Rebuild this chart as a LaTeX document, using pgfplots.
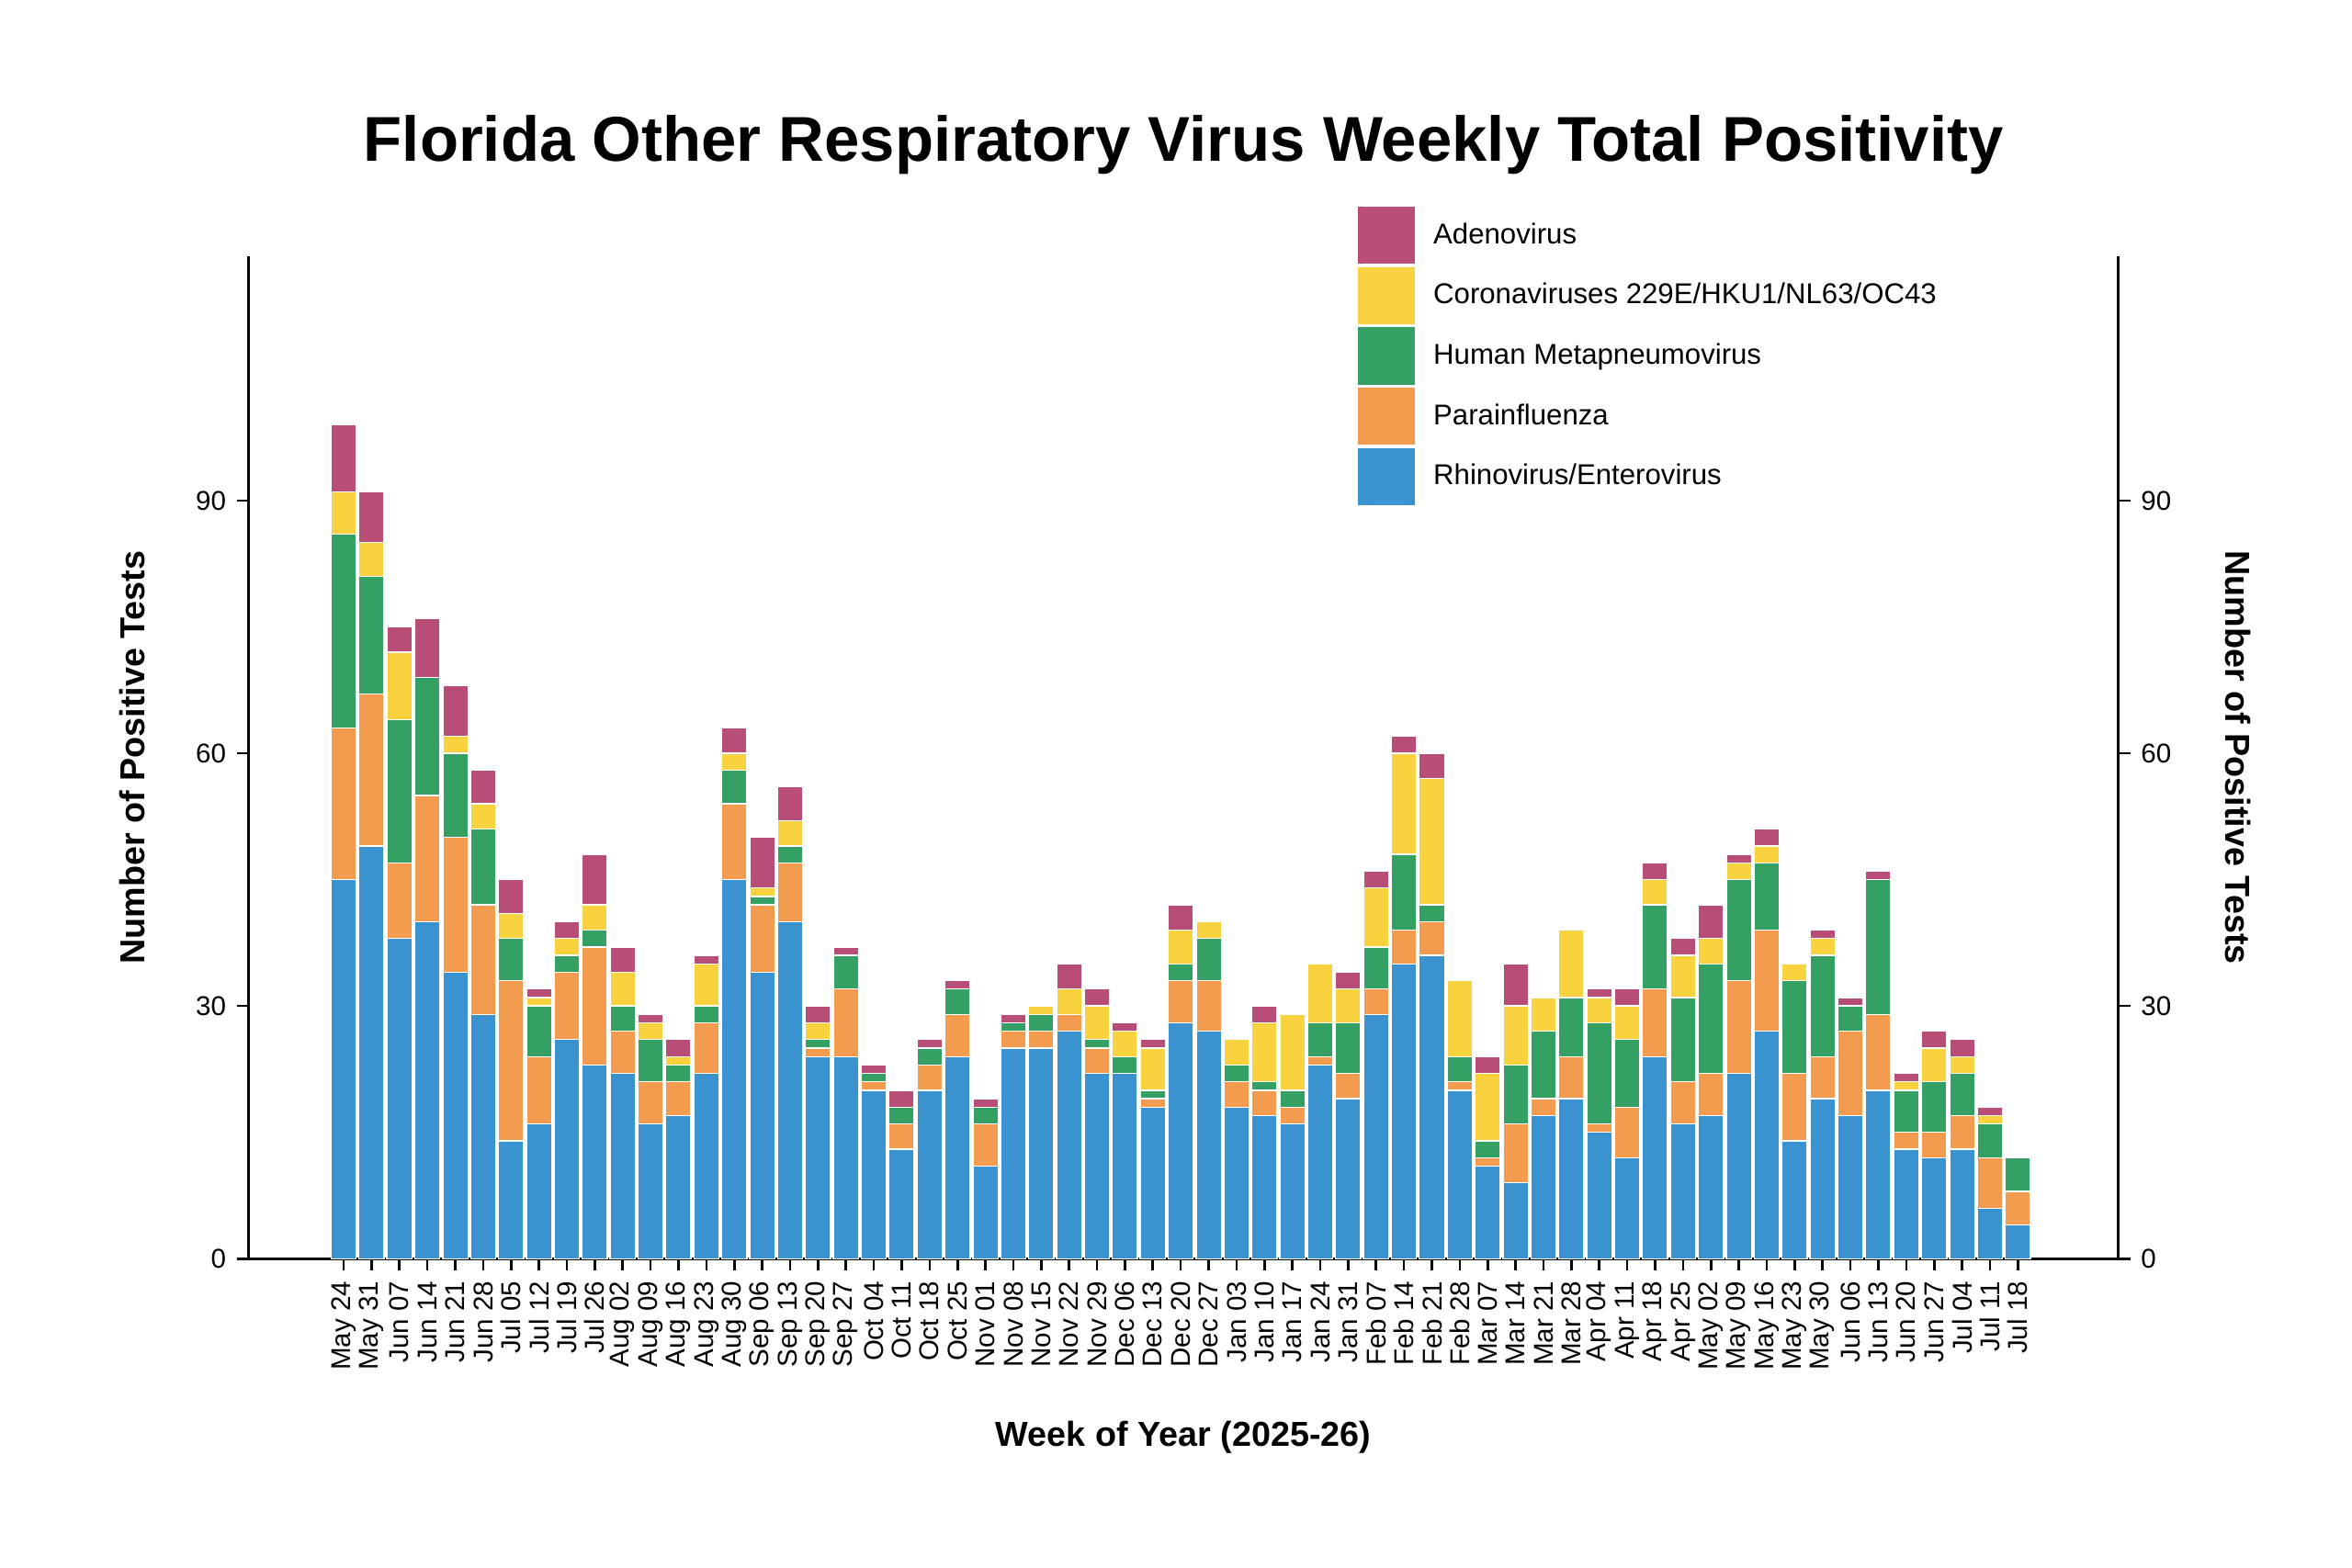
\documentclass[border=0pt]{standalone}
\usepackage{pgfplots}
\pgfplotsset{compat=1.18}
\usepackage{fontspec}
\setmainfont{Liberation Sans}
\definecolor{cR}{HTML}{3A93CF}
\definecolor{cP}{HTML}{F39C50}
\definecolor{cH}{HTML}{35A064}
\definecolor{cC}{HTML}{F9D240}
\definecolor{cA}{HTML}{B84D78}
\pgfplotstableread{
x R P H C A
0 45 18 23 5 8
1 49 18 14 4 6
2 38 9 17 8 3
3 40 15 14 0 7
4 34 16 10 2 6
5 29 13 9 3 4
6 14 19 5 3 4
7 16 8 6 1 1
8 26 8 2 2 2
9 23 14 2 3 6
10 22 5 3 4 3
11 16 5 5 2 1
12 17 4 2 1 2
13 22 6 2 5 1
14 45 9 4 2 3
15 34 8 1 1 6
16 40 7 2 3 4
17 24 1 1 2 2
18 24 8 4 0 1
19 20 1 1 0 1
20 13 3 2 0 2
21 20 3 2 0 1
22 24 5 3 0 1
23 11 5 2 0 1
24 25 2 1 0 1
25 25 2 2 1 0
26 27 2 0 3 3
27 22 3 1 4 2
28 22 0 2 3 1
29 18 1 1 5 1
30 28 5 2 4 3
31 27 6 5 2 0
32 18 3 2 3 0
33 17 3 1 7 2
34 16 2 2 9 0
35 23 1 4 7 0
36 19 3 6 4 2
37 29 3 5 7 2
38 35 4 9 12 2
39 36 4 2 15 3
40 20 1 3 9 0
41 11 1 2 8 2
42 9 7 7 7 5
43 17 2 8 4 0
44 19 5 7 8 0
45 15 1 12 3 1
46 12 6 8 4 2
47 24 8 10 3 2
48 16 5 10 5 2
49 17 5 13 3 4
50 22 11 12 2 1
51 27 12 8 2 2
52 14 8 11 2 0
53 19 5 12 2 1
54 17 10 3 0 1
55 20 9 16 0 1
56 13 2 5 1 1
57 12 3 6 4 2
58 13 4 5 2 2
59 6 6 4 1 1
60 4 4 4 0 0
}\data
\begin{document}
\begin{tikzpicture}
\pgfplotsset{every axis/.style={width=620pt,height=332.5pt,scale only axis,xmin=-3.4,xmax=63.6,ymin=0,ymax=119,
 ytick={0,30,60,90},tick style={black,thick},tick align=outside,major tick length=4pt,
 tick label style={font=\fontsize{9}{10}\selectfont},axis line style={thick},
 /pgf/number format/assume math mode=true,
 ylabel style={font=\bfseries\fontsize{11.5}{13}\selectfont}}}
\begin{axis}[at={(0,0)},anchor=south west,
 ybar stacked,bar width=0.9,
 axis x line*=bottom,axis y line*=left,
 xtick=data,xticklabels={May 24,May 31,Jun 07,Jun 14,Jun 21,Jun 28,Jul 05,Jul 12,Jul 19,Jul 26,Aug 02,Aug 09,Aug 16,Aug 23,Aug 30,Sep 06,Sep 13,Sep 20,Sep 27,Oct 04,Oct 11,Oct 18,Oct 25,Nov 01,Nov 08,Nov 15,Nov 22,Nov 29,Dec 06,Dec 13,Dec 20,Dec 27,Jan 03,Jan 10,Jan 17,Jan 24,Jan 31,Feb 07,Feb 14,Feb 21,Feb 28,Mar 07,Mar 14,Mar 21,Mar 28,Apr 04,Apr 11,Apr 18,Apr 25,May 02,May 09,May 16,May 23,May 30,Jun 06,Jun 13,Jun 20,Jun 27,Jul 04,Jul 11,Jul 18},
 xticklabel style={rotate=90,anchor=east,font=\fontsize{9}{10}\selectfont},
 ylabel={Number of Positive Tests},ylabel style={yshift=10pt},
 xlabel={Week of Year (2025-26)},xlabel style={font=\bfseries\fontsize{11.5}{13}\selectfont,yshift=-10pt},
 title={Florida Other Respiratory Virus Weekly Total Positivity},
 title style={font=\bfseries\fontsize{21}{24}\selectfont,yshift=17.5pt},
 legend style={at={(0.593,1.05)},anchor=north west,draw=none,fill=none,font=\fontsize{9.5}{11}\selectfont,row sep=1pt,inner sep=0pt},
 legend cell align=left,reverse legend,
 legend image code/.code={\fill[#1,draw=none] (0pt,-9.5pt) rectangle (19pt,9.5pt);},
 every axis plot/.append style={draw=white,line width=0.4pt}]
\addplot[fill=cR] table[x=x,y=R]{\data}; \addlegendentry{\hspace{4pt}Rhinovirus/Enterovirus}
\addplot[fill=cP] table[x=x,y=P]{\data}; \addlegendentry{\hspace{4pt}Parainfluenza}
\addplot[fill=cH] table[x=x,y=H]{\data}; \addlegendentry{\hspace{4pt}Human Metapneumovirus}
\addplot[fill=cC] table[x=x,y=C]{\data}; \addlegendentry{\hspace{4pt}Coronaviruses 229E/HKU1/NL63/OC43}
\addplot[fill=cA] table[x=x,y=A]{\data}; \addlegendentry{\hspace{4pt}Adenovirus}
\end{axis}
\begin{axis}[at={(0,0)},anchor=south west,axis y line*=right,axis x line=none,
 ylabel={Number of Positive Tests},ylabel style={rotate=180,yshift=11pt}]
\addplot[draw=none] coordinates {(0,0)};
\end{axis}
\path (-82.5pt,-102.5pt) rectangle (697.5pt,417.5pt);
\end{tikzpicture}
\end{document}
